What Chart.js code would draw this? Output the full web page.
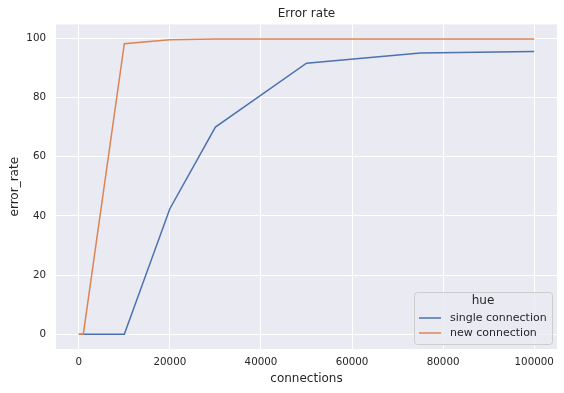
<!DOCTYPE html>
<html lang="en">
<head>
    <meta charset="UTF-8">
    <title>Error rate</title>
    <style>
        body {
            margin: 0;
            padding: 0;
            background: #ffffff;
        }
        .wrap {
            width: 564px;
            height: 393px;
        }
    </style>
    <script src="https://cdn.jsdelivr.net/npm/chart.js"></script>
</head>
<body>
    <div class="wrap">
        <canvas id="errorChart" width="564" height="393"></canvas>
    </div>
    <script>
        // x values shared by both series
        const connections = [0, 1000, 10000, 20000, 30000, 50000, 75000, 100000];
        const singleConnection = [0, 0, 0, 42.4, 70.0, 91.6, 95.0, 95.5];
        const newConnection = [0, 0, 98.2, 99.5, 99.8, 99.8, 99.8, 99.8];
        const xTicks = [0, 20000, 40000, 60000, 80000, 100000];
        const yTicks = [0, 20, 40, 60, 80, 100];

        const textColor = '#262626';
        const fontFamily = '"DejaVu Sans", sans-serif';

        function toPoints(xs, ys) {
            return xs.map((x, i) => ({ x: x, y: ys[i] }));
        }

        // grey panel behind the plot, seaborn darkgrid look
        const panelBg = {
            id: 'panelBg',
            beforeDraw(chart) {
                const a = chart.chartArea;
                const ctx = chart.ctx;
                ctx.save();
                ctx.fillStyle = '#EAEAF2';
                ctx.fillRect(a.left, a.top, a.right - a.left, a.bottom - a.top);
                ctx.restore();
            }
        };

        // legend box in the lower right corner with a "hue" title
        const hueLegend = {
            id: 'hueLegend',
            afterDraw(chart) {
                const ctx = chart.ctx;
                const a = chart.chartArea;
                const w = 138, h = 52;
                const x = a.right - 5 - w;
                const y = a.bottom - 5 - h;
                ctx.save();
                ctx.fillStyle = 'rgba(234,234,242,0.8)';
                ctx.strokeStyle = '#cccccc';
                ctx.lineWidth = 1;
                ctx.beginPath();
                ctx.roundRect(x + 0.5, y + 0.5, w, h, 3);
                ctx.fill();
                ctx.stroke();
                ctx.fillStyle = textColor;
                ctx.textAlign = 'center';
                ctx.textBaseline = 'middle';
                ctx.font = '12px ' + fontFamily;
                ctx.fillText('hue', x + w / 2, y + 9);
                ctx.textAlign = 'left';
                ctx.font = '11px ' + fontFamily;
                chart.data.datasets.forEach((ds, i) => {
                    const ly = y + 26 + i * 15;
                    ctx.strokeStyle = ds.borderColor;
                    ctx.lineWidth = 1.5;
                    ctx.beginPath();
                    ctx.moveTo(x + 5, ly);
                    ctx.lineTo(x + 27, ly);
                    ctx.stroke();
                    ctx.fillStyle = textColor;
                    ctx.fillText(ds.label, x + 36, ly);
                });
                ctx.restore();
            }
        };

        const ctx = document.getElementById('errorChart').getContext('2d');
        new Chart(ctx, {
            type: 'line',
            data: {
                datasets: [{
                    label: 'single connection',
                    data: toPoints(connections, singleConnection),
                    borderColor: '#4C72B0',
                    borderWidth: 1.5,
                    pointRadius: 0,
                    tension: 0,
                    order: 1
                }, {
                    label: 'new connection',
                    data: toPoints(connections, newConnection),
                    borderColor: '#DD8452',
                    borderWidth: 1.5,
                    pointRadius: 0,
                    tension: 0,
                    order: 0
                }]
            },
            options: {
                responsive: false,
                animation: false,
                layout: {
                    padding: { left: 0, right: 7, top: 0, bottom: 0 }
                },
                plugins: {
                    legend: { display: false },
                    tooltip: { enabled: false },
                    title: {
                        display: true,
                        fullSize: false,
                        text: 'Error rate',
                        color: textColor,
                        font: { family: fontFamily, size: 12, weight: 'normal' },
                        padding: { top: 7, bottom: 3 }
                    }
                },
                scales: {
                    x: {
                        type: 'linear',
                        min: -5000,
                        max: 105000,
                        afterBuildTicks(axis) {
                            axis.ticks = xTicks.map(v => ({ value: v }));
                        },
                        afterFit(axis) {
                            axis.height = 44;
                        },
                        grid: { color: '#ffffff', lineWidth: 1, drawTicks: false },
                        border: { display: false },
                        ticks: {
                            color: textColor,
                            padding: 7,
                            maxRotation: 0,
                            font: { family: fontFamily, size: 10.3 },
                            callback: v => String(v)
                        },
                        title: {
                            display: true,
                            text: 'connections',
                            color: textColor,
                            font: { family: fontFamily, size: 12 },
                            padding: { top: 2, bottom: 7 }
                        }
                    },
                    y: {
                        type: 'linear',
                        min: -5,
                        max: 104.7,
                        afterBuildTicks(axis) {
                            axis.ticks = yTicks.map(v => ({ value: v }));
                        },
                        afterFit(axis) {
                            axis.width = 56;
                        },
                        grid: { color: '#ffffff', lineWidth: 1, drawTicks: false },
                        border: { display: false },
                        ticks: {
                            color: textColor,
                            padding: 10,
                            font: { family: fontFamily, size: 10.3 },
                            callback: v => String(v)
                        },
                        title: {
                            display: true,
                            text: 'error_rate',
                            color: textColor,
                            font: { family: fontFamily, size: 12 },
                            padding: { top: 8, bottom: 4 }
                        }
                    }
                }
            },
            plugins: [panelBg, hueLegend]
        });
    </script>
</body>
</html>
